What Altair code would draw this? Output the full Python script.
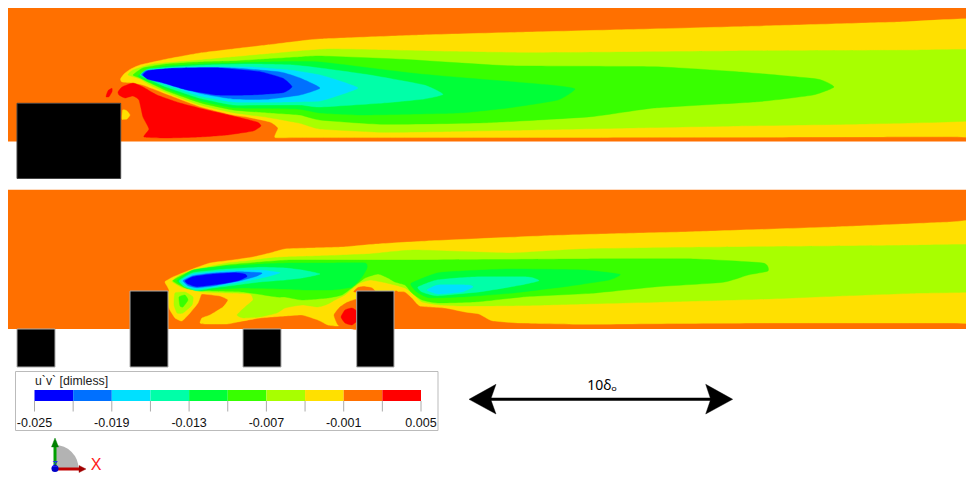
import math
import altair as alt
import pandas as pd

# ---------- colour levels of the contour bar ----------
LEVEL_COLORS = ["#0000ff", "#0070ff", "#00e0ff", "#00ffa8", "#00ff38",
                "#38ff00", "#a8ff00", "#ffe000", "#ff7000", "#ff0000"]
BLUE, BLUE2, CYAN, AQUA, G00, G38, LIME, YELLOW, ORANGE, RED = LEVEL_COLORS
LEVEL_EDGES = [-0.025, -0.022, -0.019, -0.016, -0.013, -0.010, -0.007, -0.004, -0.001, 0.002, 0.005]
TICK_LABELS = ["-0.025", "-0.019", "-0.013", "-0.007", "-0.001", "0.005"]
TICK_VALUES = [-0.025, -0.019, -0.013, -0.007, -0.001, 0.005]

# ---------- upper flow field contours (x, y in picture units) ----------
TOP_YELLOW = [(120.5,79),(124,74),(130,69.5),(140,65),(167,59),(200,53),(233,49),(267,45),(300,41),(320,39),
              (420,35),(529,32),(630,29.5),(737,26.7),(900,22),(985,19.7),(990,60),(990,125),(985,137),(950,136.8),
              (850,137),(700,137.3),(550,137.5),(400,137.6),(300,137.6),(275,137.5),(278,128),
              (270,122),(247,117),(233,115),(200,106.7),(167,94.3),(143,85),(133,83),(122,82)]
TOP_LIME = [(128,75),(133,70),(153,64),(200,60),(233,57),(267,54),(300,51),(330,49),(383,50),(450,51.5),(529,52.7),
            (630,52),(737,51),(900,50.3),(985,50),(990,70),(990,100),(985,120),(863,124),(737,126),(630,128),(529,130),
            (450,131.5),(383,132.3),(320,129),(300,123.3),(267,117.3),(233,112.7),
            (200,105),(167,92.7),(150,85),(140,79)]
TOP_G38 = [(133,75),(143,68),(167,64),(200,62),(233,61),(267,59),(300,57),(320,56),(403,59.3),(508,65.7),(654,66.7),
           (737,71.7),(817,79),(834,87),(813,95),(758,101.7),(654,108),(591,116.7),(487,122.7),(383,124.3),(320,120),
           (300,115),(267,112.7),(233,110),(200,102.7),(167,91),(150,83),(140,78)]
TOP_G00 = [(138,76),(147,70),(167,66),(200,64),(233,63),(267,62),(320,62),(420,74),(550,85),(575,89),(558,100),
           (508,108),(458,113),(362,115),(320,113),(300,109.3),(267,108.3),(233,107.7),(200,100.7),(167,89.3),(147,81)]
TOP_AQUA = [(140,75),(148,69),(173,67),(207,65),(250,64),(293,65),(320,68),(370,75),(424,85),(443,94.3),(424,99),
            (383,103),(320,107),(300,105),(267,105),(233,105),(200,98.3),(167,87.3),(150,80)]
TOP_CYAN = [(142,75),(147,71),(173,68),(210,67),(250,67),(290,70),(320,75),(340,81),(358,88),(340,95),(320,101),
            (300,101.7),(267,102.3),(233,102),(200,96),(167,85),(150,79)]
TOP_BLUE2 = [(141.5,75),(147,70.5),(183,68),(233,68),(280,72),(300,78),(320,88),(300,95),(267,99.3),(233,99),
             (200,93.3),(167,83.3),(150,79)]
TOP_BLUE = [(143,75),(148,70.7),(173,68.3),(217,67.7),(260,71.7),(283,78.3),(292,86.7),(283,92.7),(250,95),(217,95),
            (187,90),(163,83),(148,79.3)]
TOP_RED = [(118,92),(122,87),(133,83),(143,87),(157,95),(180,103),(207,110),(233,116),(257,122),(261,126),(253,131),
           (227,135),(200,137),(167,138),(144,137),(149,129),(143,117),(139,100),(133,96),(125,98),(119,95)]
TOP_RED_DROP = [(106,96.7),(108,90.7),(112,88.3),(112,91.7),(109,96.7)]
TOP_YELLOW_DROP = [(122.7,110),(126.7,110.7),(130,115),(127,119),(122,119)]

# ---------- lower flow field contours ----------
BOT_YELLOW = [(165,281.7),(173,277),(190,270),(210,263),(233,260),(253,257),(270,253),(285,249),(310,248),(343,247),
              (377,244),(427,241),(547,235.7),(620,233.5),(693,231.7),(840,226.7),(950,222),(985,220),(990,250),
              (990,300),(985,323),(950,323),(850,323),(767,323),(680,323.5),(583,324.3),(520,323),
              (492,320.7),(479,314),(465,312),(445,308),(420,306),(412,298),(405,292),(398,291.5),(395,291),(370,310),(345,322),
              (338,326),(328,325),(318,320),(302,315),(285,316),(260,318),(243,321),(227,324),(205,324),(200,323),
              (202,318),(210,315),(223,307),(228,300),(220,296),(203,294),(201,295),(198,303),(190,313),(182,321),
              (175,318),(169,308),(168,295),(169,290),(167,286)]
BOT_LIME = [(172,281),(180,275),(193,270),(227,263),(247,261),(270,258),(285,257),(318,256),(368,254),(415,250),
            (510,253),(583,249),(680,247.5),(767,246.7),(900,245.5),(985,245),(990,260),(990,280),(985,291.5),(913,293.3),
            (840,296),(767,299),(680,301.5),(583,304),(525,305.5),
            (461,306),(440,305),(422,302),(412,293),(405,288),(395,285),(382,282),(370,280),(360,283),(353,288),
            (345,295),(335,300),(328,304),(318,307),(302,305),(285,308),(277,313),(260,317),(243,318),(237,315),
            (245,307),(253,300),(250,294),(227,293),(203,292),(183,288),(174,283)]
BOT_G38 = [(173,280.7),(187,273),(200,269),(227,265),(253,262.7),(290,260),(350,260),(415,260),(500,259.5),(583,259),(693,259),(763,263),
           (768,271),(748,275),(723,282.3),(657,286.7),(591,293.3),(525,296.7),(478,301.7),(438,303),(422,300),
           (412,293),(405,285),(395,282),(388,278),(378,274),(365,278),(353,287),(342,295),(328,298),(302,300),
           (285,297),(277,297),(243,292),(213,291),(187,288.5)]
BOT_G00 = [(177,280.7),(193,270),(227,266),(260,264),(290,263),(330,263),(365,263),(367,268),(362,277),(352,287),(332,290),
           (305,290),(285,289),(243,288),(213,289.5),(200,291),(187,288)]
BOT_AQUA = [(179,280.7),(193,272.7),(227,269),(260,267.3),(285,268),(302,270),(320,274),(302,278),(285,280),(260,282),
            (213,288),(197,290.7),(185,287)]
BOT_CYAN = [(181,280.7),(193,274),(227,270.7),(260,270),(280,272.7),(267,276.7),(243,281.7),(213,287),(197,289),(187,286.7)]
BOT_BLUE2 = [(183,280.7),(193,275.7),(213,273),(240,271.7),(262,273),(255,276.7),(240,280.7),(213,286),(197,287.7),(188,285.7)]
BOT_BLUE = [(185,280.7),(193,276.7),(213,274),(235,272.7),(245,274),(247,276.7),(238,280.7),(220,284),(197,286.7),(188,284)]
BOT_LOBE_G00 = [(411,283.3),(437,273),(462,271),(510,269),(583,270),(620,274.3),(609,280),(565,286.7),(510,293.3),(466,296.7),
                (429,297.7),(416.5,291.7)]
BOT_LOBE_AQUA = [(418,287),(437,280),(473,277),(528,277),(539,280.7),(521,285),(481,291.7),(437,295.7),(422,292)]
BOT_LOBE_CYAN = [(427,290),(438,285),(468,285),(473,287),(462,292),(438,294)]
BOT_BLOB_LIME = [(175,293),(185,292),(193,297),(192,305),(183,313),(177,313),(174,305)]
BOT_BLOB_G38 = [(179,297),(185,295),(188,300),(183,307),(180,306)]
BOT_ORANGE_POCKET = [(334,315),(340,307),(348,302),(358,300),(358,329),(345,327),(338,325)]
BOT_RED = [(341,317),(345,310),(352,308),(358,312),(358,320),(352,325),(345,323)]
BOT_ORANGE_CAP = [(354,292),(358,287.5),(364,286.5),(372,288),(375,292)]

# ---------- rectangles: x0, x1, y0, y1 ----------
PANELS = [(7, 990, 2, 141.6), (7, 990, 189.7, 329)]
BLOCK_TOP = [(17, 120.7, 103.3, 178.5)]
BLOCKS_BOTTOM = [(17, 55, 329, 367), (130, 168, 291, 367), (243, 281, 329, 367), (356.7, 394, 291, 367)]

# ---------- scale bar and axis triad ----------
ARROW_LEFT = [(469, 399.3), (496, 384.3), (490.7, 399.3), (496, 414)]
ARROW_RIGHT = [(732.7, 399.3), (705.7, 384.3), (710.7, 399.3), (705.7, 414)]
HEAD_UP = [(51.5, 447), (58.5, 447), (55, 438)]
HEAD_RIGHT = [(79, 465.5), (79, 472.5), (86, 469)]

X = alt.X("x:Q", scale=alt.Scale(domain=[8, 966], nice=False, zero=False), axis=None)
Y = alt.Y("y:Q", scale=alt.Scale(domain=[479, 8], nice=False, zero=False), axis=None)


def poly(points, color, interp="cardinal-closed", tension=0.55):
    df = pd.DataFrame({"i": range(len(points)), "x": [p[0] for p in points], "y": [p[1] for p in points]})
    if interp == "linear":
        interp = "linear-closed"
    return alt.Chart(df).mark_line(fill=color, stroke=color, strokeWidth=0.4, interpolate=interp,
                                   tension=tension, clip=True).encode(x=X, y=Y, order="i:Q")


def rects(rows, fill, stroke=None, width=0):
    df = pd.DataFrame(rows, columns=["x", "x2", "y", "y2"])
    kw = {"stroke": stroke, "strokeWidth": width} if stroke else {}
    return alt.Chart(df).mark_rect(fill=fill, clip=True, **kw).encode(
        x=X, x2="x2:Q", y=Y, y2="y2:Q")


def rule(x0, x1, y0, y1, color, width):
    df = pd.DataFrame({"x": [x0], "x2": [x1], "y": [y0], "y2": [y1]})
    return alt.Chart(df).mark_rule(color=color, strokeWidth=width).encode(x=X, x2="x2:Q", y=Y, y2="y2:Q")


def label(text, x, y, size, color="#000000", font="Liberation Sans", align="center"):
    df = pd.DataFrame({"x": [x], "y": [y], "t": [text]})
    return alt.Chart(df).mark_text(fontSize=size, color=color, font=font, align=align, baseline="alphabetic").encode(
        x=X, y=Y, text="t:N")


def bar_x(v):
    return 34.5 + (v - LEVEL_EDGES[0]) / (LEVEL_EDGES[-1] - LEVEL_EDGES[0]) * 386.5


layers = [rects(PANELS, ORANGE)]
for pts, col in [(TOP_YELLOW, YELLOW), (TOP_LIME, LIME), (TOP_G38, G38), (TOP_G00, G00), (TOP_AQUA, AQUA),
                 (TOP_CYAN, CYAN), (TOP_BLUE2, BLUE2), (TOP_BLUE, BLUE), (TOP_RED, RED),
                 (TOP_RED_DROP, RED), (TOP_YELLOW_DROP, YELLOW),
                 (BOT_YELLOW, YELLOW), (BOT_LIME, LIME), (BOT_G38, G38), (BOT_G00, G00), (BOT_AQUA, AQUA),
                 (BOT_CYAN, CYAN), (BOT_BLUE2, BLUE2), (BOT_BLUE, BLUE),
                 (BOT_LOBE_G00, G00), (BOT_LOBE_AQUA, AQUA), (BOT_LOBE_CYAN, CYAN),
                 (BOT_BLOB_LIME, LIME), (BOT_BLOB_G38, G38),
                 (BOT_ORANGE_POCKET, ORANGE), (BOT_RED, RED), (BOT_ORANGE_CAP, ORANGE)]:
    layers.append(poly(pts, col))

layers.append(rects(BLOCK_TOP, "#000000", "#444444", 1))
layers.append(rects(BLOCKS_BOTTOM, "#000000", "#aaaaaa", 1))

# colour bar box
layers.append(rects([(15.5, 438, 371.5, 430.5)], "#ffffff", "#bbbbbb", 1))
layers.append(label("u`v` [dimless]", 35, 384.5, 12.3, color="#222222", align="left"))
for k, col in enumerate(LEVEL_COLORS):
    layers.append(rects([(bar_x(LEVEL_EDGES[k]), bar_x(LEVEL_EDGES[k + 1]), 390, 401)], col))
for e in LEVEL_EDGES:
    layers.append(rule(bar_x(e), bar_x(e), 401, 411.5, "#aaaaaa", 1))
for v, t in zip(TICK_VALUES, TICK_LABELS):
    layers.append(label(t, bar_x(v), 427, 12.5, color="#111111"))

# scale bar
layers.append(rule(490, 711, 399.3, 399.3, "#000000", 3))
layers.append(poly(ARROW_LEFT, "#000000", "linear"))
layers.append(poly(ARROW_RIGHT, "#000000", "linear"))
layers.append(label("10δₒ", 602, 390, 14, font="Noto Sans"))

# axis triad
quarter = alt.Chart(pd.DataFrame({"x": [55], "y": [468.5]})).mark_arc(
    theta=0, theta2=math.pi / 2, radius=23.5, color="#b3b3b3").encode(x=X, y=Y)
layers.append(quarter)
layers.append(rule(55, 55, 468, 446, "#00a000", 3))
layers.append(poly(HEAD_UP, "#008000", "linear"))
layers.append(rule(55, 80, 469, 469, "#c00000", 3))
layers.append(poly(HEAD_RIGHT, "#a00000", "linear"))
layers.append(alt.Chart(pd.DataFrame({"x": [55], "y": [468.5]})).mark_point(
    filled=True, size=50, color="#0000c8", opacity=1).encode(x=X, y=Y))
layers.append(label("Z", 55, 466.5, 9, color="#2020ff"))
layers.append(label("X", 96, 470, 16, color="#ff2020"))

chart = alt.layer(*layers).properties(
    width=958, height=471, padding=0, autosize=alt.AutoSizeParams(type="none")
).configure_view(stroke=None)

chart.save("out.html", embed_options={"renderer": "svg", "actions": False})
